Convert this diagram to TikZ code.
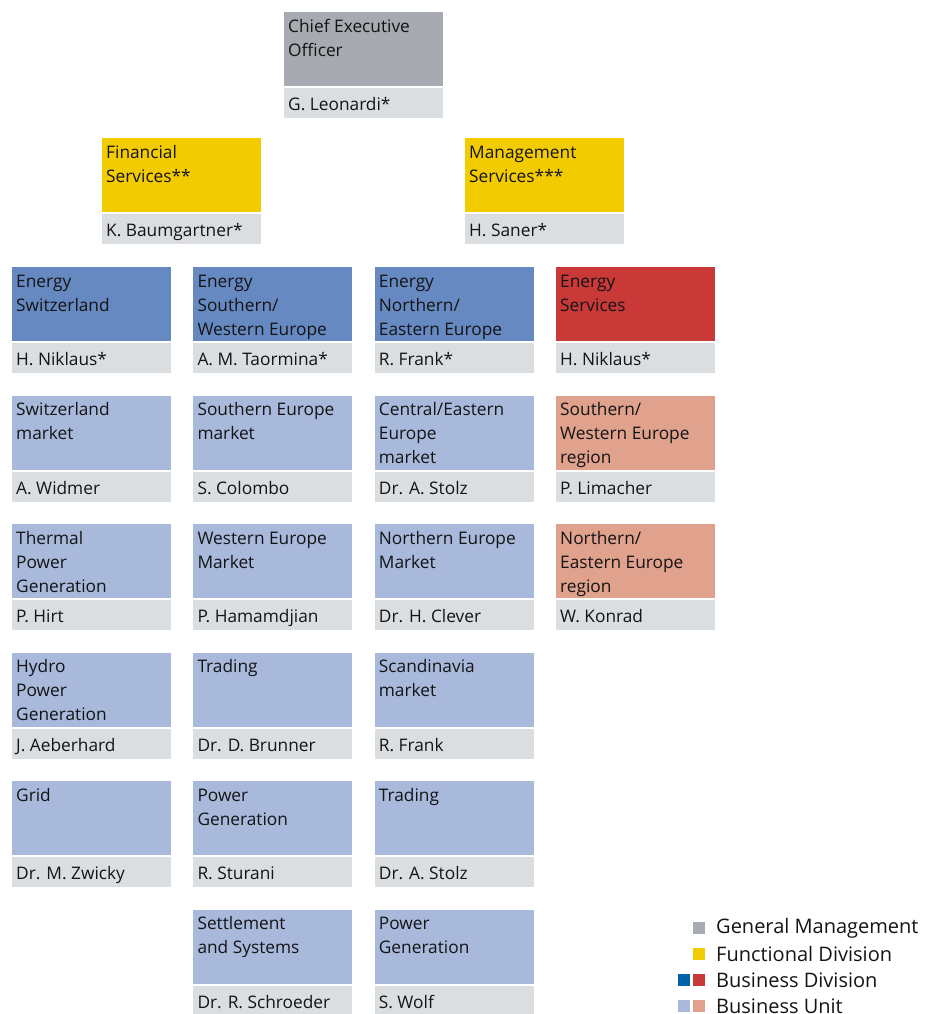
\documentclass[tikz,border=0pt]{standalone}
\usepackage{fontspec}
\setmainfont{Open Sans}
\definecolor{gmgray}{RGB}{167,170,176}
\definecolor{fdyellow}{RGB}{242,203,0}
\definecolor{bdblue}{RGB}{102,137,194}
\definecolor{bdred}{RGB}{200,57,55}
\definecolor{bublue}{RGB}{168,185,220}
\definecolor{busalmon}{RGB}{224,162,141}
\definecolor{namegray}{RGB}{219,222,225}
\definecolor{legblue}{RGB}{0,98,168}
\definecolor{txt}{RGB}{20,20,20}
\tikzset{
  topbox/.style={inner sep=0pt, outer sep=0pt, minimum width=159pt, minimum height=74pt, anchor=north west},
  namebar/.style={fill=namegray, inner sep=0pt, outer sep=0pt, minimum width=159pt, minimum height=30pt, anchor=north west},
  lbl/.style={anchor=north west, inner sep=0pt, align=left, text=txt, font=\fontsize{17.3}{24}\selectfont},
  legsq/.style={inner sep=0pt, minimum size=12pt},
  legtxt/.style={anchor=west, inner sep=0pt, text=txt, font=\fontsize{20}{26}\selectfont}
}
\newcommand\orgunit[6]{%
  \node[topbox, fill=#4] (#1) at (#2,#3) {};
  \node[lbl] (#1-title) at ([xshift=4pt,yshift=-3.2pt]#1.north west) {\strut #5};
  \node[namebar] (#1-bar) at ([yshift=-2pt]#1.south west) {};
  \node[lbl, anchor=base west] (#1-name) at ([xshift=4pt,yshift=-22.5pt]#1-bar.north west) {#6};
}
\begin{document}
\begin{tikzpicture}[x=1pt,y=-1pt]
\useasboundingbox (0,0) rectangle (937,1014);
% top
\orgunit{ceo}{284}{12}{gmgray}{Chief Executive\\Officer}{G. Leonardi*}
\orgunit{fin}{102}{138}{fdyellow}{Financial\\Services**}{K. Baumgartner*}
\orgunit{mgmt}{465}{138}{fdyellow}{Management\\Services***}{H. Saner*}
% column 1
\orgunit{ch}{12}{267}{bdblue}{Energy\\Switzerland}{H. Niklaus*}
\orgunit{chm}{12}{395.5}{bublue}{Switzerland\\market}{A. Widmer}
\orgunit{thermal}{12}{524}{bublue}{Thermal\\Power\\Generation}{P. Hirt}
\orgunit{hydro}{12}{652.5}{bublue}{Hydro\\Power\\Generation}{J. Aeberhard}
\orgunit{grid}{12}{781}{bublue}{Grid}{Dr. M. Zwicky}
% column 2
\orgunit{swe}{193.3}{267}{bdblue}{Energy\\Southern/\\Western Europe}{A. M. Taormina*}
\orgunit{sem}{193.3}{395.5}{bublue}{Southern Europe\\market}{S. Colombo}
\orgunit{wem}{193.3}{524}{bublue}{Western Europe\\Market}{P. Hamamdjian}
\orgunit{trad2}{193.3}{652.5}{bublue}{Trading}{Dr. D. Brunner}
\orgunit{pg2}{193.3}{781}{bublue}{Power\\Generation}{R. Sturani}
\orgunit{settle}{193.3}{909.5}{bublue}{Settlement\\and Systems}{Dr. R. Schroeder}
% column 3
\orgunit{nee}{374.7}{267}{bdblue}{Energy\\Northern/\\Eastern Europe}{R. Frank*}
\orgunit{cee}{374.7}{395.5}{bublue}{Central/Eastern\\Europe\\market}{Dr. A. Stolz}
\orgunit{nem}{374.7}{524}{bublue}{Northern Europe\\Market}{Dr. H. Clever}
\orgunit{scan}{374.7}{652.5}{bublue}{Scandinavia\\market}{R. Frank}
\orgunit{trad3}{374.7}{781}{bublue}{Trading}{Dr. A. Stolz}
\orgunit{pg3}{374.7}{909.5}{bublue}{Power\\Generation}{S. Wolf}
% column 4
\orgunit{es}{556}{267}{bdred}{Energy\\Services}{H. Niklaus*}
\orgunit{swr}{556}{395.5}{busalmon}{Southern/\\Western Europe\\region}{P. Limacher}
\orgunit{ner}{556}{524}{busalmon}{Northern/\\Eastern Europe\\region}{W. Konrad}
% legend
\node[legsq, fill=gmgray] (lg1) at (699,928) {};
\node[legtxt] (lt1) at (716,928) {General Management};
\node[legsq, fill=fdyellow] (lg2) at (699,954) {};
\node[legtxt] (lt2) at (716,954) {Functional Division};
\node[legsq, fill=legblue] (lg3a) at (684,980) {};
\node[legsq, fill=bdred] (lg3b) at (699,980) {};
\node[legtxt] (lt3) at (716,980) {Business Division};
\node[legsq, fill=bublue] (lg4a) at (684,1006) {};
\node[legsq, fill=busalmon] (lg4b) at (699,1006) {};
\node[legtxt] (lt4) at (716,1006) {Business Unit};
\end{tikzpicture}
\end{document}
